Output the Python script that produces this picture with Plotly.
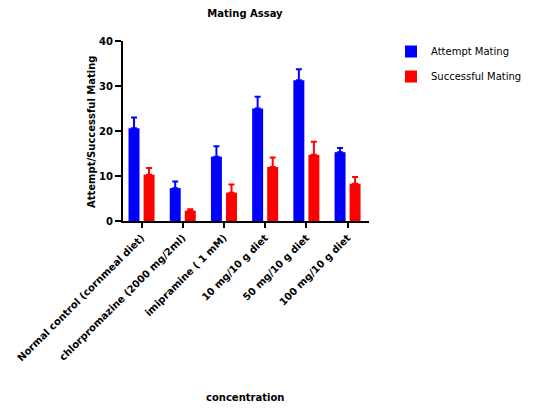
import plotly.graph_objects as go

categories = ["Normal control (cornmeal diet)", "chlorpromazine (2000 mg/2ml)",
              "imipramine ( 1 mM)", "10 mg/10 g diet", "50 mg/10 g diet", "100 mg/10 g diet"]
attempt = [20.6, 7.3, 14.3, 25.0, 31.3, 15.3]
attempt_err = [2.4, 1.5, 2.3, 2.6, 2.4, 0.9]
success = [10.3, 2.3, 6.3, 12.0, 14.7, 8.3]
success_err = [1.5, 0.3, 1.8, 2.1, 2.9, 1.5]
y_ticks = [0, 10, 20, 30, 40]

font_family = "DejaVu Sans, Liberation Sans, Arial, sans-serif"

# page body margin offset compensation
OFF = 8
W, H = 542, 408
L, T = 123 - OFF, 41 - OFF
pw, ph = 246, 180
R, B = W - L - pw, H - T - ph

def px_x(x):
    return (x - OFF - L) / pw

def px_y(y):
    return (T + ph - (y - OFF)) / ph

fig = go.Figure()
fig.add_trace(go.Bar(
    x=categories, y=attempt, name="Attempt Mating", marker_color="#0000ff",
    marker_line_width=0, legendgroup="a",
    error_y=dict(type="data", array=attempt_err, arrayminus=[0]*6, symmetric=False,
                 color="#0000ff", thickness=2, width=3)))
fig.add_trace(go.Bar(
    x=categories, y=success, name="Successful Mating", marker_color="#ff0000",
    marker_line_width=0, legendgroup="b",
    error_y=dict(type="data", array=success_err, arrayminus=[0]*6, symmetric=False,
                 color="#ff0000", thickness=2, width=3)))

fig.update_layout(
    width=W, height=H,
    margin=dict(l=L, r=R, t=T, b=B, autoexpand=False),
    paper_bgcolor="white", plot_bgcolor="white",
    barmode="group", bargap=0.27, bargroupgap=0.27,
    font=dict(family=font_family, color="black"),
    title=dict(text="<b>Mating Assay</b>", x=(245 - OFF)/W, xanchor="center",
               y=1 - (13 - OFF)/H, yanchor="middle", font=dict(size=10)),
    legend=dict(x=px_x(391), xanchor="left", y=px_y(37), yanchor="top",
                font=dict(size=10), itemwidth=30, tracegroupgap=6,
                bgcolor="rgba(0,0,0,0)"),
    showlegend=True,
    annotations=[
        dict(text="<b>Attempt/Successful Mating</b>", textangle=-90,
             xref="paper", yref="paper", x=px_x(91), y=px_y(132),
             xanchor="center", yanchor="middle", showarrow=False,
             font=dict(size=10)),
        dict(text="<b>concentration</b>",
             xref="paper", yref="paper", x=px_x(245), y=px_y(397),
             xanchor="center", yanchor="middle", showarrow=False,
             font=dict(size=10)),
    ],
)
fig.update_xaxes(
    range=[-0.45, 5.52], showline=True, linecolor="black", linewidth=2,
    ticks="outside", ticklen=5, tickwidth=2, tickcolor="black",
    tickangle=-45, tickfont=dict(size=10, family=font_family, weight="bold"),
    showgrid=False, zeroline=False, automargin=False,
)
fig.update_yaxes(
    range=[0, 40], tickvals=y_ticks, showline=True, linecolor="black", linewidth=2,
    ticks="outside", ticklen=6, tickwidth=2, tickcolor="black",
    tickfont=dict(size=10, family=font_family, weight="bold"),
    showgrid=False, zeroline=False, automargin=False,
)

fig.write_html("out.html")
